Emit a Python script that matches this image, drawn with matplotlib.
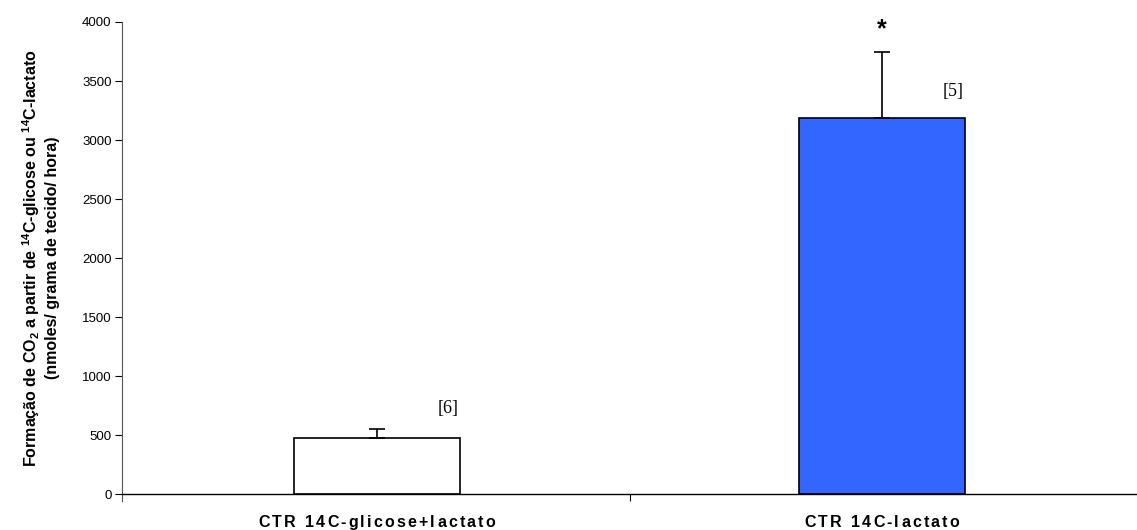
import matplotlib
matplotlib.use("Agg")
import matplotlib.pyplot as plt
from matplotlib.transforms import offset_copy

# data
groups = ["CTR 14C-glicose+lactato", "CTR 14C-lactato"]
means = [474, 3190]
errors = [80, 560]
n_labels = ["[6]", "[5]"]
n_label_y = [730, 3410]
bar_colors = ["white", "#3366FF"]

plt.rcParams["font.family"] = ["Liberation Sans", "DejaVu Sans"]
plt.rcParams["mathtext.default"] = "regular"

fig = plt.figure(figsize=(11.37, 5.30), dpi=100)
ax = fig.add_axes([122 / 1137, 0.0674, 1 - 122 / 1137, 0.8911])

x = list(range(len(groups)))
ax.bar(x, means, width=0.33, color=bar_colors, edgecolor="black", linewidth=1.2, zorder=2)
ax.errorbar(x, means, yerr=[[0] * len(errors), errors], fmt="none", ecolor="black",
            elinewidth=1.2, capsize=6, capthick=1.2, zorder=3)

# n annotations and significance star
for xi, ny, lab in zip(x, n_label_y, n_labels):
    ax.text(xi + 0.14, ny, lab, fontfamily="Liberation Serif", fontsize=13,
            ha="center", va="center")
ax.text(1, means[1] + errors[1] + 190, "*", fontsize=18, fontweight="bold",
        ha="center", va="center")

ax.set_xlim(-0.505, 1.505)
ax.set_ylim(0, 4000)
ax.set_yticks(range(0, 4001, 500))
ax.set_xticks([0.5])
ax.set_xticklabels([""])
ax.tick_params(axis="both", direction="out", length=5, width=0.8, labelsize=9.5, colors="black")
ax.tick_params(axis="y", pad=2.5)

for side in ["top", "right"]:
    ax.spines[side].set_visible(False)
ax.spines["left"].set_color("#555555")
ax.spines["bottom"].set_linewidth(1.0)
ax.spines["left"].set_bounds(-60, 4000)

ax.set_ylabel("Formação de CO$_2$ a partir de $^{14}$C-glicose ou $^{14}$C-lactato\n"
              "(nmoles/ grama de tecido/ hora)",
              fontsize=11.5, fontweight="bold", labelpad=16, linespacing=1.25)

# category labels, drawn letter by letter to get the wide letter spacing
renderer = fig.canvas.get_renderer()
lab_size = 11.5
spacing = 2.2  # extra pixels between letters


def text_width(s):
    t = fig.text(0, 0, s, fontsize=lab_size, fontweight="bold")
    w = t.get_window_extent(renderer).width
    t.remove()
    return w


ref_w = text_width("X")
for xi, g in zip(x, groups):
    offsets = [text_width(g[:i] + "X") - ref_w if i else 0 for i in range(len(g))]
    total = text_width(g) + spacing * (len(g) - 1)
    base = ax.transData.transform((xi, 0))[0] - total / 2
    for i, ch in enumerate(g):
        if ch == " ":
            continue
        px = base + offsets[i] + spacing * i
        tr = offset_copy(fig.transFigure, fig=fig, x=px * 72 / fig.dpi, y=0, units="points")
        fig.text(0, 3 / 530, ch, transform=tr, fontsize=lab_size, fontweight="bold",
                 ha="left", va="baseline")

fig.savefig("out.png", dpi=100)
